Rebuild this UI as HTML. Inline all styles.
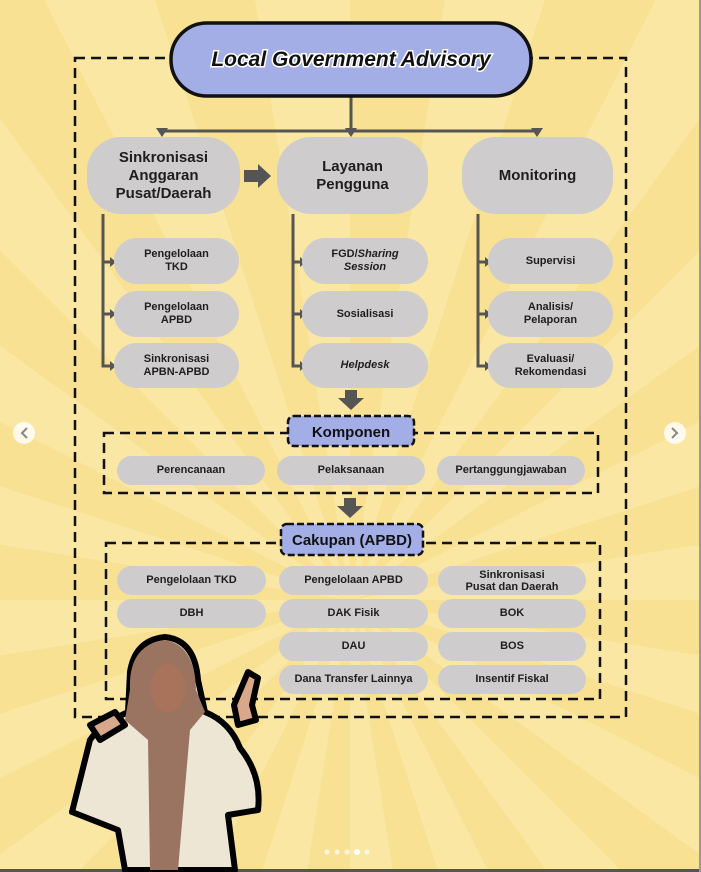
<!DOCTYPE html>
<html><head><meta charset="utf-8"><style>
*{margin:0;padding:0;box-sizing:border-box}
body{width:701px;height:872px;overflow:hidden;position:relative;font-family:"Liberation Sans",sans-serif;
background:repeating-conic-gradient(from 0deg at 350px 600px,#f9e194 0deg 9deg,#fae7a4 9deg 18deg);}
.p{position:absolute;background:#cfcccd;border-radius:24px;display:flex;align-items:center;justify-content:center;text-align:center;font-weight:bold;color:#1e1e1e;font-size:11px;line-height:13px}
.big{border-radius:34px;font-size:15px;line-height:18px}
.s{border-radius:15px;font-size:11px}
svg{position:absolute;left:0;top:0}
</style></head><body>
<svg width="701" height="872">
<g fill="none" stroke="#111" stroke-width="2.5" stroke-dasharray="10,6">
<rect x="75" y="58" width="551" height="659"/>
<rect x="104" y="433" width="494" height="60"/>
<rect x="106" y="543" width="494" height="156"/>
</g>
<g stroke="#555" stroke-width="3" fill="none">
<path d="M351 96V130M162 131H537M162 131V134M537 131V134"/>
<path d="M103 214V366H112M103 262H112M103 314H112"/>
<path d="M293 214V366H302M293 262H302M293 314H302"/>
<path d="M478 214V366H487M478 262H487M478 314H487"/>
</g>
<g fill="#555">
<polygon points="156,128 168,128 162,137"/><polygon points="345,128 357,128 351,137"/><polygon points="531,128 543,128 537,137"/>
<polygon points="110,257 116,262 110,267"/><polygon points="110,309 116,314 110,319"/><polygon points="110,361 116,366 110,371"/>
<polygon points="300,257 306,262 300,267"/><polygon points="300,309 306,314 300,319"/><polygon points="300,361 306,366 300,371"/>
<polygon points="485,257 491,262 485,267"/><polygon points="485,309 491,314 485,319"/><polygon points="485,361 491,366 485,371"/>
<polygon points="244,170 258,170 258,164 271,176 258,188 258,182 244,182"/>
<polygon points="345,390 357,390 357,398 364,398 351,410 338,398 345,398"/>
<polygon points="344,498 356,498 356,506 363,506 350,518 337,506 344,506"/>
</g>
<rect x="171" y="23" width="360" height="73" rx="36" fill="#a4aee6" stroke="#111" stroke-width="3.5"/>
<rect x="288" y="416" width="126" height="30" rx="6" fill="#a4aee6" stroke="#111" stroke-width="2.5" stroke-dasharray="7,3"/>
<rect x="281" y="524" width="142" height="31" rx="6" fill="#a4aee6" stroke="#111" stroke-width="2.5" stroke-dasharray="7,3"/>
<text x="351" y="66" text-anchor="middle" font-family="Liberation Sans" font-weight="bold" font-style="italic" font-size="21" fill="#111" stroke="#fff" stroke-width="3" paint-order="stroke">Local Government Advisory</text>
<text x="351" y="437" text-anchor="middle" font-family="Liberation Sans" font-weight="bold" font-size="15" fill="#111">Komponen</text>
<text x="352" y="545" text-anchor="middle" font-family="Liberation Sans" font-weight="bold" font-size="15" fill="#111">Cakupan (APBD)</text>
<circle cx="24" cy="433" r="11" fill="#fff" opacity=".8"/><path d="M27 428L22 433L27 438" stroke="#888" stroke-width="2" fill="none"/>
<circle cx="675" cy="433" r="11" fill="#fff" opacity=".8"/><path d="M672 428L677 433L672 438" stroke="#888" stroke-width="2" fill="none"/>
<g fill="#fff" opacity=".7"><circle cx="327" cy="852" r="2.5"/><circle cx="337" cy="852" r="2.5"/><circle cx="347" cy="852" r="2.5"/><circle cx="367" cy="852" r="2.5"/></g>
<circle cx="357" cy="852" r="3" fill="#fff"/>
<rect x="0" y="869" width="701" height="3" fill="#555"/>
<rect x="699" y="0" width="2" height="872" fill="#999"/>
<!-- person -->
<g stroke="#000" stroke-width="6" stroke-linejoin="round">
<path d="M90 740 Q100 725 128 712 L130 672 Q135 640 165 637 Q195 640 198 680 L205 712 Q230 722 240 748 Q262 775 258 810 L228 815 L235 870 L125 870 L118 830 L72 812 Z" fill="#ede6d5"/>
<path d="M234 705 L248 672 L258 678 L252 705 L256 720 L238 725 Z" fill="#d9a88a"/>
<path d="M90 725 L115 712 L125 725 L100 740 Z" fill="#d9a88a"/>
</g>
<path d="M130 690 Q128 645 165 640 Q195 645 196 690 L205 712 L190 730 L178 870 L150 870 L148 740 L125 720 Z" fill="#9b7461"/>
<ellipse cx="168" cy="688" rx="17" ry="24" fill="#a8735a"/>
</svg>
<div class="p big" style="left:87px;top:137px;width:153px;height:77px"><span>Sinkronisasi<br>Anggaran<br>Pusat/Daerah</span></div>
<div class="p big" style="left:277px;top:137px;width:151px;height:77px"><span>Layanan<br>Pengguna</span></div>
<div class="p big" style="left:462px;top:137px;width:151px;height:77px"><span>Monitoring</span></div>
<div class="p" style="left:114px;top:238px;width:125px;height:46px"><span>Pengelolaan<br>TKD</span></div>
<div class="p" style="left:114px;top:291px;width:125px;height:46px"><span>Pengelolaan<br>APBD</span></div>
<div class="p" style="left:114px;top:343px;width:125px;height:45px"><span>Sinkronisasi<br>APBN-APBD</span></div>
<div class="p" style="left:302px;top:238px;width:126px;height:46px"><span>FGD/<i>Sharing</i><br><i>Session</i></span></div>
<div class="p" style="left:302px;top:291px;width:126px;height:46px"><span>Sosialisasi</span></div>
<div class="p" style="left:302px;top:343px;width:126px;height:45px"><span><i>Helpdesk</i></span></div>
<div class="p" style="left:488px;top:238px;width:125px;height:46px"><span>Supervisi</span></div>
<div class="p" style="left:488px;top:291px;width:125px;height:46px"><span>Analisis/<br>Pelaporan</span></div>
<div class="p" style="left:488px;top:343px;width:125px;height:45px"><span>Evaluasi/<br>Rekomendasi</span></div>
<div class="p s" style="left:117px;top:456px;width:148px;height:29px"><span>Perencanaan</span></div>
<div class="p s" style="left:277px;top:456px;width:148px;height:29px"><span>Pelaksanaan</span></div>
<div class="p s" style="left:437px;top:456px;width:148px;height:29px"><span>Pertanggungjawaban</span></div>
<div class="p s" style="left:117px;top:566px;width:149px;height:29px"><span>Pengelolaan TKD</span></div>
<div class="p s" style="left:279px;top:566px;width:149px;height:29px"><span>Pengelolaan APBD</span></div>
<div class="p s" style="left:438px;top:566px;width:148px;height:29px;line-height:12px"><span>Sinkronisasi<br>Pusat dan Daerah</span></div>
<div class="p s" style="left:117px;top:599px;width:149px;height:29px"><span>DBH</span></div>
<div class="p s" style="left:279px;top:599px;width:149px;height:29px"><span>DAK Fisik</span></div>
<div class="p s" style="left:438px;top:599px;width:148px;height:29px"><span>BOK</span></div>
<div class="p s" style="left:279px;top:632px;width:149px;height:29px"><span>DAU</span></div>
<div class="p s" style="left:438px;top:632px;width:148px;height:29px"><span>BOS</span></div>
<div class="p s" style="left:279px;top:665px;width:149px;height:29px"><span>Dana Transfer Lainnya</span></div>
<div class="p s" style="left:438px;top:665px;width:148px;height:29px"><span>Insentif Fiskal</span></div>
</body></html>
